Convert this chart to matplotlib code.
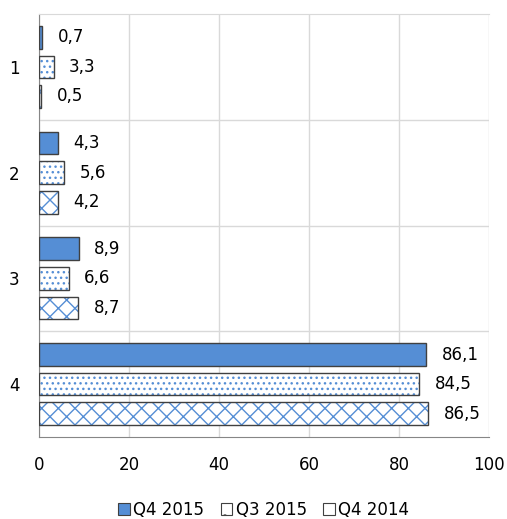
import numpy as np
from matplotlib import pyplot as plt
from matplotlib.patches import Patch

categories = ['1', '2', '3', '4']
q4_2015 = [0.7, 4.3, 8.9, 86.1]
q3_2015 = [3.3, 5.6, 6.6, 84.5]
q4_2014 = [0.5, 4.2, 8.7, 86.5]
series_names = ['Q4 2015', 'Q3 2015', 'Q4 2014']

blue = '#558ed5'
edge = '#404040'
plt.rcParams['font.family'] = ['DejaVu Sans']
plt.rcParams['hatch.linewidth'] = 1.0

fig = plt.figure(figsize=(5.07, 5.19), dpi=100)
ax = fig.add_axes([39 / 507, 1 - 437 / 519, 450 / 507, 423 / 519])

y = np.arange(len(categories))
h = 0.215
step = 0.28

ax.barh(y - step, q4_2015, h, color=blue, edgecolor=edge, linewidth=1, zorder=3)
ax.barh(y, q3_2015, h, color='white', edgecolor=blue, hatch='...', linewidth=0, zorder=3)
ax.barh(y, q3_2015, h, fill=False, edgecolor=edge, linewidth=1, zorder=4)
ax.barh(y + step, q4_2014, h, color='white', edgecolor=blue, hatch='xx', linewidth=0, zorder=3)
ax.barh(y + step, q4_2014, h, fill=False, edgecolor=edge, linewidth=1, zorder=4)

for off, vals in zip([-step, 0, step], [q4_2015, q3_2015, q4_2014]):
    for yi, v in zip(y, vals):
        ax.annotate(('%.1f' % v).replace('.', ','), (v, yi + off), xytext=(11, 0),
                    textcoords='offset points', va='center', ha='left', fontsize=12)

ax.set_xlim(0, 100)
ax.set_ylim(3.5, -0.5)
ax.set_xticks([0, 20, 40, 60, 80, 100])
ax.set_yticks(y)
ax.set_yticklabels(categories)
ax.set_yticks([0.5, 1.5, 2.5], minor=True)
ax.tick_params(axis='both', which='both', length=0, labelsize=12, colors='black')
ax.tick_params(axis='x', pad=14)
ax.tick_params(axis='y', pad=14)
ax.grid(axis='x', color='#d9d9d9', linewidth=1, zorder=0)
ax.grid(axis='y', which='minor', color='#d9d9d9', linewidth=1, zorder=0)
ax.set_axisbelow(True)

ax.spines['right'].set_visible(False)
ax.spines['top'].set_color('#d9d9d9')
ax.spines['left'].set_color('#868686')
ax.spines['bottom'].set_color('#868686')

handles = [Patch(facecolor=blue, edgecolor=edge, linewidth=0.8),
           Patch(facecolor='white', edgecolor=edge, hatch='.', linewidth=0.8),
           Patch(facecolor='white', edgecolor=edge, linewidth=0.8)]
fig.legend(handles, series_names, loc='center', bbox_to_anchor=(0.52, 1 - 510 / 519),
           ncol=3, frameon=False, fontsize=12, handlelength=0.7, handleheight=0.7,
           handletextpad=0.2, columnspacing=1.0)

plt.savefig('out.png', dpi=100)
